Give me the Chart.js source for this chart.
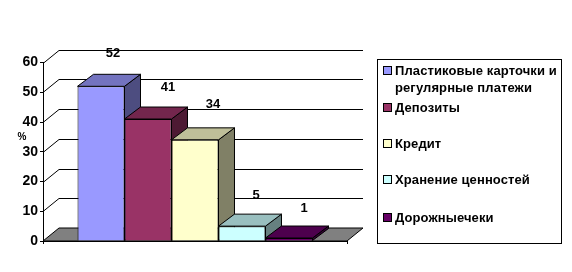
<!DOCTYPE html>
<html>
<head>
<meta charset="utf-8">
<script src="https://cdn.jsdelivr.net/npm/chart.js@4"></script>
<style>
  html, body { margin: 0; padding: 0; background: #fff; }
  #wrap { position: relative; width: 572px; height: 272px; overflow: hidden; }
  #legend { position: absolute; left: 377px; top: 59px; width: 183px; height: 183px; border: 1px solid #000; font: bold 13px "Liberation Sans", Arial, sans-serif; letter-spacing: 0.1px; color: #000; }
  #legend .item { position: absolute; left: 17px; line-height: 17px; white-space: nowrap; }
  #legend .swatch { position: absolute; left: -12px; top: 4px; width: 7px; height: 7px; border: 1px solid #000; }
</style>
</head>
<body>
<div id="wrap">
  <canvas id="chart" width="572" height="272"></canvas>
  <div id="legend"></div>
</div>
<script>
const seriesNames = [
  ["Пластиковые карточки и", "регулярные платежи"],
  ["Депозиты"],
  ["Кредит"],
  ["Хранение ценностей"],
  ["Дорожныечеки"]
];
const seriesValues = [52, 41, 34, 5, 1];
const seriesColors = ["#9999FF", "#993366", "#FFFFCC", "#CCFFFF", "#660066"];
const yTicks = [0, 10, 20, 30, 40, 50, 60];
const legendTops = [2, 39, 75, 111, 149];
const labelNudges = [[12, -33], [20, -32], [18, -35], [14, -31], [15, -30]];

// 3D depth of the old Excel look
const depthX = 16;
const wallDepthY = 13;
const barDepthY = 12;

function shade(hex, k) {
  const n = parseInt(hex.slice(1), 16);
  const r = Math.round((n >> 16 & 255) * k);
  const g = Math.round((n >> 8 & 255) * k);
  const b = Math.round((n & 255) * k);
  return `rgb(${r},${g},${b})`;
}

function face(ctx, pts, fill) {
  ctx.beginPath();
  pts.forEach((p, i) => i ? ctx.lineTo(p[0], p[1]) : ctx.moveTo(p[0], p[1]));
  ctx.closePath();
  ctx.fillStyle = fill;
  ctx.fill();
  ctx.strokeStyle = "#000";
  ctx.lineWidth = 1;
  ctx.stroke();
}

const wallPlugin = {
  id: "wall",
  // floor, grid lines, then side and top of every bar, left to right
  beforeDatasetsDraw(chart) {
    const { ctx, chartArea: a, scales: { y } } = chart;
    ctx.save();
    face(ctx, [[a.left, a.bottom], [a.left + depthX, a.bottom - wallDepthY], [a.right + depthX, a.bottom - wallDepthY], [a.right, a.bottom]], "#808080");
    ctx.strokeStyle = "#000";
    ctx.lineWidth = 1;
    yTicks.slice(1).forEach(v => {
      const py = Math.round(y.getPixelForValue(v)) + 0.5;
      ctx.beginPath();
      ctx.moveTo(a.left, py);
      ctx.lineTo(a.left + depthX, py - wallDepthY);
      ctx.lineTo(a.right + depthX, py - wallDepthY);
      ctx.stroke();
    });
    seriesColors.forEach((color, i) => {
      const p = chart.getDatasetMeta(i).data[0].getProps(["x", "y", "base", "width"], true);
      const l = p.x - p.width / 2, r = p.x + p.width / 2;
      face(ctx, [[r, p.y], [r + depthX, p.y - barDepthY], [r + depthX, p.base - barDepthY], [r, p.base]], shade(color, 0.5));
      face(ctx, [[l, p.y], [l + depthX, p.y - barDepthY], [r + depthX, p.y - barDepthY], [r, p.y]], shade(color, 0.75));
    });
    ctx.restore();
  },
  afterDraw(chart) {
    const { ctx, chartArea: a } = chart;
    ctx.save();
    ctx.fillStyle = "#000";
    ctx.textAlign = "center";
    ctx.textBaseline = "middle";
    ctx.font = 'bold 13px "Liberation Sans", Arial, sans-serif';
    chart.data.datasets.forEach((ds, i) => {
      const bar = chart.getDatasetMeta(i).data[0];
      ctx.fillText(String(ds.data[0]), bar.x + labelNudges[i][0], bar.y + labelNudges[i][1]);
    });
    ctx.font = 'bold 10px "Liberation Sans", Arial, sans-serif';
    ctx.fillText("%", 22, 137);
    // end ticks under the axis
    ctx.strokeStyle = "#000";
    ctx.beginPath();
    ctx.moveTo(a.left + 0.5, a.bottom);
    ctx.lineTo(a.left + 0.5, a.bottom + 3);
    ctx.moveTo(a.right + 0.5, a.bottom);
    ctx.lineTo(a.right + 0.5, a.bottom + 3);
    ctx.stroke();
    ctx.restore();
  }
};

new Chart(document.getElementById("chart"), {
  type: "bar",
  plugins: [wallPlugin],
  data: {
    labels: [""],
    datasets: seriesValues.map((v, i) => ({
      label: seriesNames[i].join(" "),
      data: [v],
      backgroundColor: seriesColors[i],
      borderColor: "#000",
      borderWidth: 1
    }))
  },
  options: {
    responsive: false,
    animation: false,
    categoryPercentage: 0.773,
    barPercentage: 1,
    layout: { padding: { top: 62.5, right: 225, bottom: 31, left: 0 } },
    plugins: {
      legend: { display: false },
      tooltip: { enabled: false }
    },
    scales: {
      x: {
        ticks: { display: false },
        grid: { display: false },
        border: { color: "#000" },
        afterFit(s) { s.height = 0; }
      },
      y: {
        min: 0,
        max: 60,
        afterFit(s) { s.width = 43; },
        afterBuildTicks(s) { s.ticks = yTicks.map(v => ({ value: v })); },
        grid: { drawOnChartArea: false, color: "#000", tickLength: 3 },
        border: { color: "#000" },
        ticks: {
          color: "#000",
          padding: 2,
          font: { family: '"Liberation Sans", Arial, sans-serif', size: 14, weight: "bold" }
        }
      }
    }
  }
});

// legend keeps the uneven rows of the original, so it is plain html
const legend = document.getElementById("legend");
seriesNames.forEach((lines, i) => {
  const item = document.createElement("div");
  item.className = "item";
  item.style.top = legendTops[i] + "px";
  item.innerHTML = `<span class="swatch" style="background:${seriesColors[i]}"></span>` + lines.join("<br>");
  legend.appendChild(item);
});
</script>
</body>
</html>
